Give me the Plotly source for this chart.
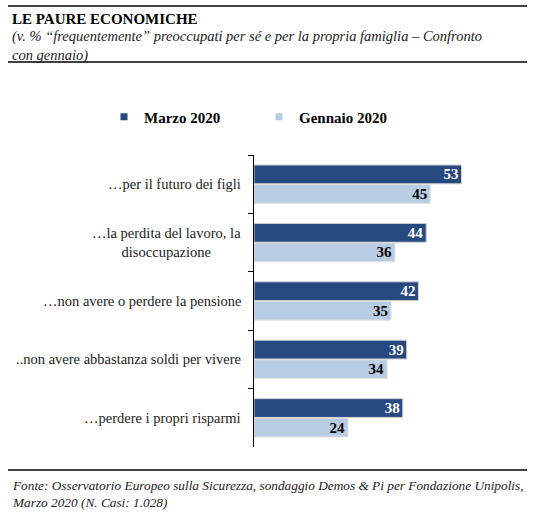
import plotly.graph_objects as go

categories = [
    "…per il futuro dei figli",
    "…la perdita del lavoro, la<br>disoccupazione",
    "…non avere o perdere la pensione",
    "..non avere abbastanza soldi per vivere",
    "…perdere i propri risparmi",
]
series_names = ["Marzo 2020", "Gennaio 2020"]
marzo = [53, 44, 42, 39, 38]
gennaio = [45, 36, 35, 34, 24]

title = "LE PAURE ECONOMICHE"
subtitle = "(v. % “frequentemente” preoccupati per sé e per la propria famiglia – Confronto<br>con gennaio)"
footnote = "Fonte: Osservatorio Europeo sulla Sicurezza, sondaggio Demos & Pi per Fondazione Unipolis,<br>Marzo 2020 (N. Casi: 1.028)"

W, H = 537, 513
L, R, T, B = 254, 9, 155, 66
pw, ph = W - L - R, H - T - B

def px(x):
    return (x - L) / pw

def py(y):
    return (H - B - y) / ph

FONT = "Liberation Serif"
DARK = "#26497f"
LIGHT = "#b8cce4"

fig = go.Figure()
fig.add_trace(go.Bar(
    y=categories, x=marzo, orientation="h", name=series_names[0],
    marker=dict(color=DARK, line=dict(color="#d0d0d0", width=1)),
    text=[f"<b>{v}</b>" for v in marzo], textposition="inside", textangle=0,
    constraintext="none", cliponaxis=False,
    insidetextanchor="end", textfont=dict(family=FONT, size=15, color="white"),
    showlegend=False,
))
fig.add_trace(go.Bar(
    y=categories, x=gennaio, orientation="h", name=series_names[1],
    marker=dict(color=LIGHT, line=dict(color="#e0e0e0", width=1)),
    text=[f"<b>{v}</b>" for v in gennaio], textposition="inside", textangle=0,
    constraintext="none", cliponaxis=False,
    insidetextanchor="end", textfont=dict(family=FONT, size=15, color="black"),
    showlegend=False,
))
for name, col in zip(series_names, [DARK, LIGHT]):
    fig.add_trace(go.Scatter(
        x=[None], y=[None], mode="markers", name=f"<b>{name}</b>",
        marker=dict(symbol="square", size=7, color=col),
    ))

ann = [
    dict(text=f"<b>{title}</b>", x=px(10), y=py(19), xanchor="left", yanchor="middle",
         font=dict(family=FONT, size=15, color="black")),
    dict(text=f"<i>{subtitle}</i>", x=px(10), y=py(26), xanchor="left", yanchor="top",
         align="left", font=dict(family=FONT, size=14.5, color="#222")),
    dict(text=f"<i>{footnote}</i>", x=px(10), y=py(476), xanchor="left", yanchor="top",
         align="left", font=dict(family=FONT, size=13.3, color="#222")),
]
for c in categories:
    ann.append(dict(text=c, x=px(243), y=c, yref="y", xanchor="right", yanchor="middle",
                    align="center", font=dict(family=FONT, size=14.5, color="#222")))
for a in ann:
    a.setdefault("xref", "paper")
    a.setdefault("yref", "paper")
    a["showarrow"] = False

shapes = []
for yy in [6, 62, 470]:
    shapes.append(dict(type="line", xref="paper", yref="paper", x0=px(8), x1=px(527),
                       y0=py(yy), y1=py(yy), line=dict(color="black", width=1.5)))

fig.update_layout(
    width=W, height=H,
    margin=dict(l=L, r=R, t=T, b=B),
    paper_bgcolor="white", plot_bgcolor="white",
    barmode="group", bargap=0.33, bargroupgap=0.04,
    font=dict(family=FONT, size=14, color="black"),
    xaxis=dict(range=[0, 70], visible=False),
    yaxis=dict(autorange="reversed", showline=True, linecolor="black", linewidth=1,
               ticks="outside", tickson="boundaries", ticklen=5, tickcolor="black",
               showticklabels=False, showgrid=False, zeroline=False),
    legend=dict(orientation="h", x=px(104), y=py(117), xanchor="left", yanchor="middle",
                font=dict(family=FONT, size=15, color="black"), entrywidth=110,
                bgcolor="rgba(0,0,0,0)"),
    annotations=ann, shapes=shapes,
)

fig.write_html("out.html", config={"displayModeBar": False},
               post_script="document.body.style.margin='0';")
